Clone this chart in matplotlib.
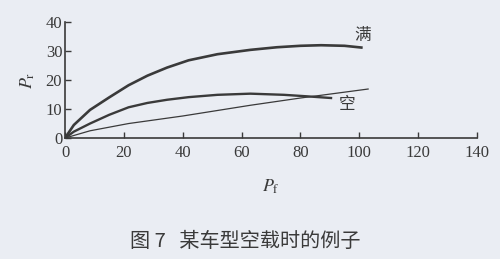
import matplotlib.pyplot as plt

plt.rcParams['font.family'] = ['Liberation Serif', 'Noto Sans CJK SC']
plt.rcParams['mathtext.fontset'] = 'stix'

# full load curve (满)
full_x = [0, 3, 8.5, 15, 21.6, 28, 34.7, 42, 51.8, 63, 72, 80, 87, 95, 100.7]
full_y = [0, 4.5, 9.7, 14.0, 18.2, 21.5, 24.3, 26.8, 28.9, 30.4, 31.3, 31.8, 32.0, 31.8, 31.2]

# empty load curve (空)
empty_x = [0, 3, 8.5, 15, 21.6, 28, 34.7, 42, 51.8, 63, 74.4, 82, 90.4]
empty_y = [0, 2.2, 5.0, 8.0, 10.6, 12.1, 13.2, 14.1, 14.9, 15.3, 14.9, 14.4, 13.8]

# reference line
ref_x = [0, 8.5, 21.6, 40, 63, 80, 103]
ref_y = [0, 2.5, 5.0, 7.6, 11.3, 13.8, 16.9]

x_ticks = [0, 20, 40, 60, 80, 100, 120, 140]
y_ticks = [0, 10, 20, 30, 40]

bg = '#eaedf3'
ink = '#3a3a3a'

fig = plt.figure(figsize=(5, 2.59), dpi=100, facecolor=bg)
ax = fig.add_axes([0.13, 0.467, 0.824, 0.448])
ax.set_facecolor(bg)

ax.plot(full_x, full_y, color=ink, lw=1.9)
ax.plot(empty_x, empty_y, color=ink, lw=1.7)
ax.plot(ref_x, ref_y, color=ink, lw=0.9)

ax.set_xlim(0, 140)
ax.set_ylim(0, 40)
ax.set_xticks(x_ticks)
ax.set_yticks(y_ticks)
for s in ['top', 'right']:
    ax.spines[s].set_visible(False)
for s in ['left', 'bottom']:
    ax.spines[s].set_color(ink)
    ax.spines[s].set_linewidth(1.2)
ax.tick_params(direction='in', length=4, width=1, colors=ink, labelsize=12)
ax.tick_params(axis='x', pad=5)
ax.tick_params(axis='y', pad=2)

ax.text(101.2, 35.4, '满', fontsize=12, color=ink, family='Noto Sans CJK SC',
        ha='center', va='center')
ax.text(96, 11.4, '空', fontsize=12, color=ink, family='Noto Sans CJK SC',
        ha='center', va='center')

ax.set_ylabel('$P_\\mathrm{r}$', fontsize=13, color=ink, labelpad=6)
ax.set_xlabel('$P_\\mathrm{f}$', fontsize=13, color=ink, labelpad=12)

fig.text(0.49, 0.045, '图 7   某车型空载时的例子', ha='center', fontsize=14.5,
         color=ink, family='Noto Sans CJK SC')

fig.savefig('out.png', dpi=100, facecolor=bg)
